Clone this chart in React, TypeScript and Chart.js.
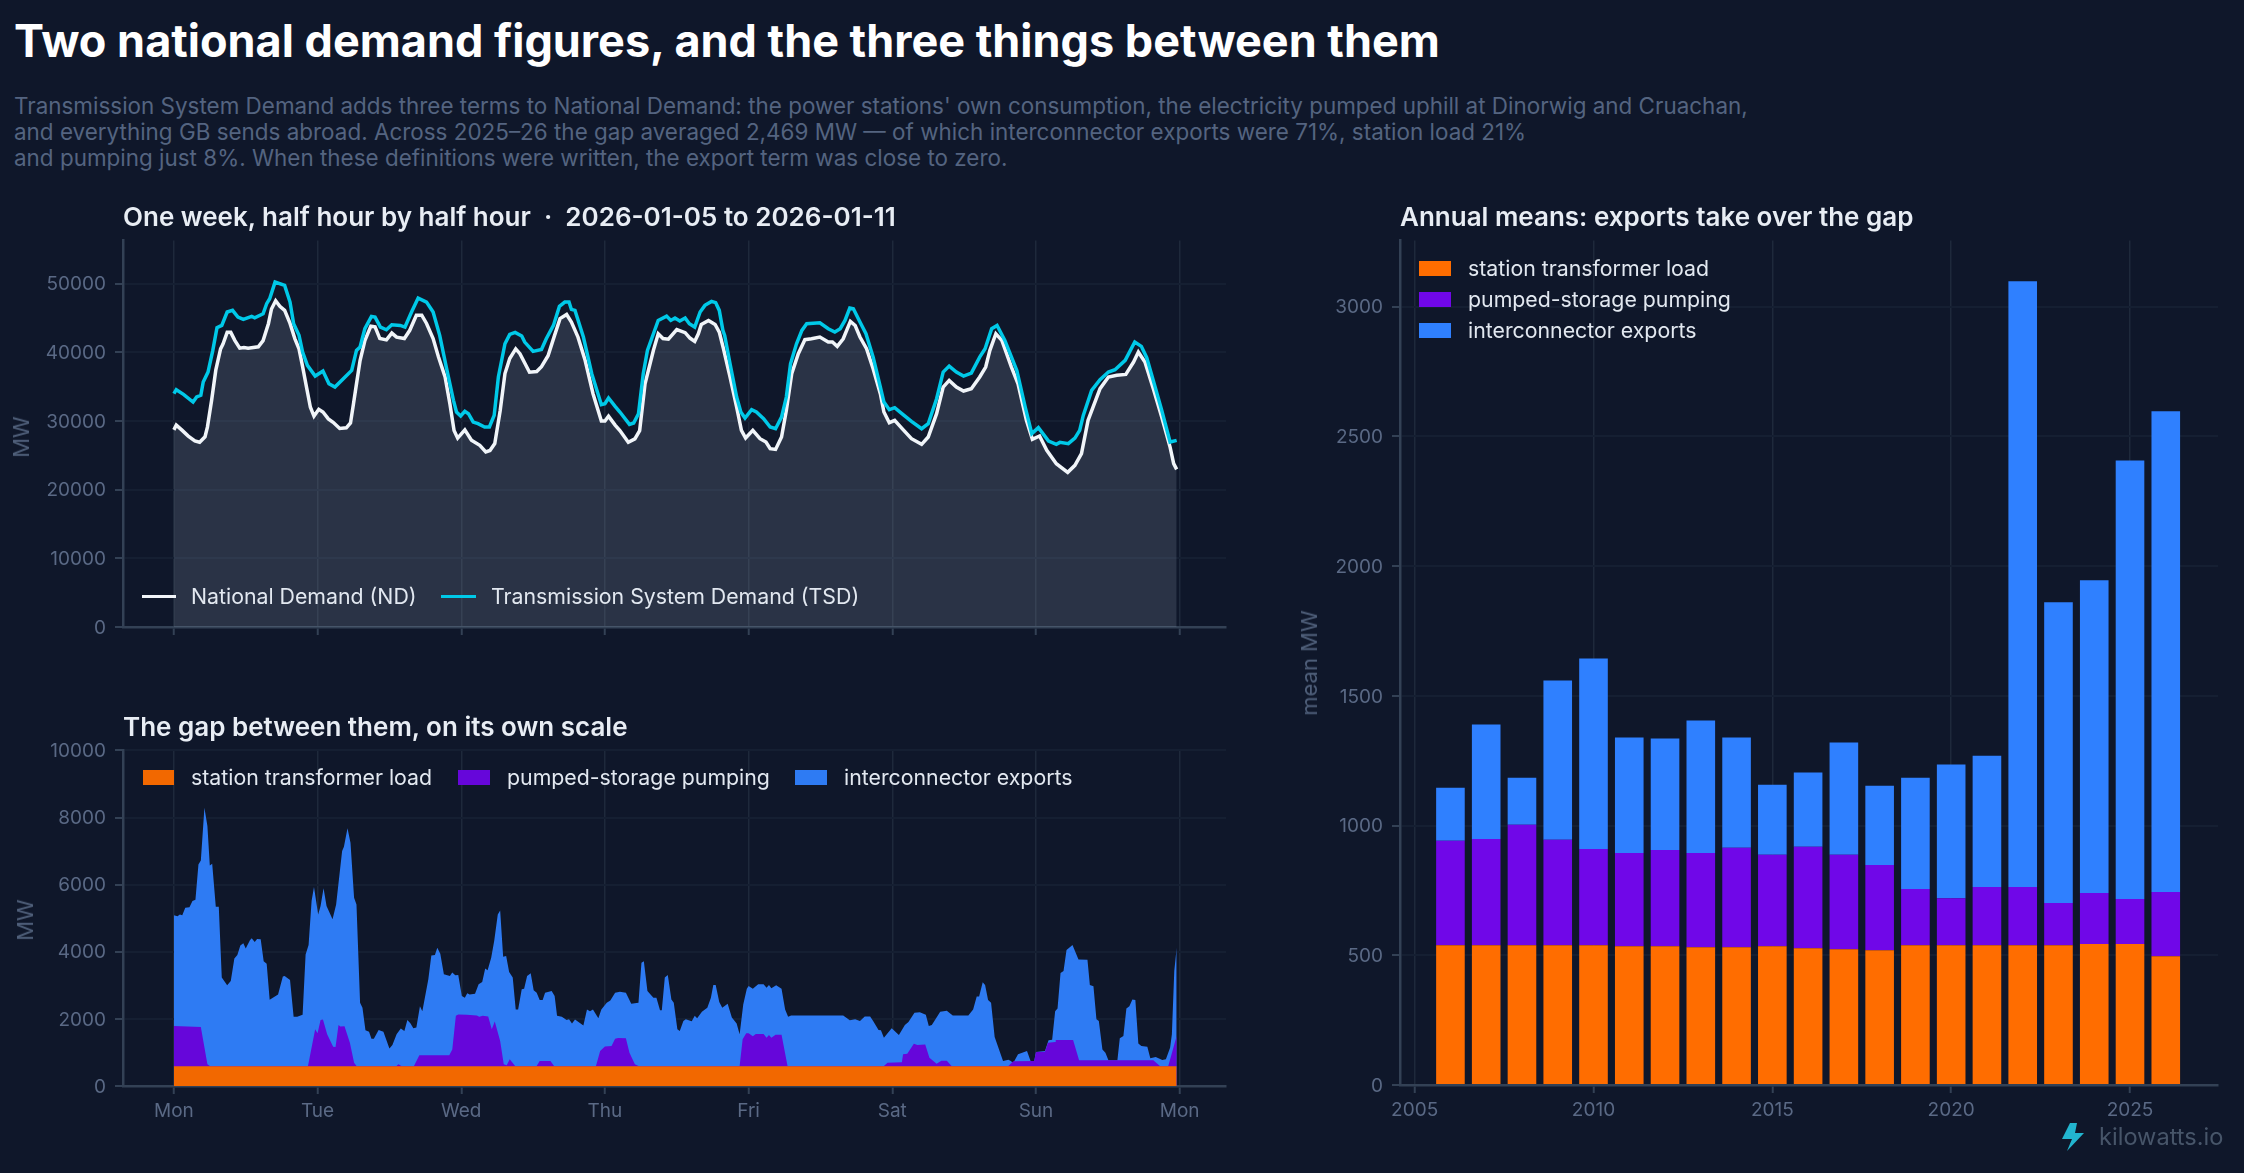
import { useEffect, useRef } from "react";
import { Chart, registerables } from "chart.js";

Chart.register(...registerables);

// half-hourly week at its turning points
const ndHours = [
  0, 0.4, 1.3, 2.4, 3.5, 4.3, 5.2, 5.6, 6.3, 7, 7.8, 8.2, 8.9, 9.5, 10.2, 11, 11.7, 12.4, 14.1, 14.9, 15.8, 16.3, 17, 17.7, 18.5, 19.4, 20.2, 20.9, 21.5, 22.2, 22.8, 23.4,
  24.2, 24.9, 25.8, 26.6, 27.7, 28.8, 29.5, 30, 30.5, 31.1, 31.9, 32.9, 33.6, 34.4, 35.5, 36.4, 37.2, 38.5, 39.4, 40.5, 41.4, 42.2, 43.3, 44.2, 45.3, 46.1, 46.8, 47.4,
  48.6, 49.7, 51.1, 52.1, 52.8, 53.6, 54.5, 55.3, 56.1, 57.1, 57.8, 59.4, 60.6, 61.4, 62.5, 63.6, 64.5, 65.6, 66.4, 67.5, 68.7, 70, 71.4,
  72, 72.6, 73.7, 74.5, 75.9, 77, 77.8, 78.7, 80.1, 80.9, 81.7, 82.6, 84, 85.4, 86.2, 87, 87.6, 88.1, 89.3, 90.4, 91.1, 91.8, 92.9, 94, 94.8, 95.5,
  96.7, 97.9, 98.9, 99.6, 100.5, 101.5, 102.3, 103.2, 104.3, 105.4, 106.5, 107.9, 109.3, 110, 110.8, 111.8, 113, 113.8, 114.6, 115.7, 116.8, 118, 118.6, 119.5,
  120.4, 121.8, 123.2, 124.9, 126, 127.4, 128.5, 129.5, 130.7, 131.9, 133.2, 134.6, 135.6, 136.3, 137.3, 138.3, 139.9, 141, 142.4, 143.4,
  144.6, 145.8, 147.4, 149.3, 150.5, 151.6, 152.7, 154.7, 156.1, 157.5, 159, 160.3, 161.1, 162.2, 163.6, 165, 166.4, 167, 167.5,
];
const ndValues = [
  28700, 29400, 28700, 27800, 27100, 26900, 27700, 29100, 33000, 37400, 40500, 41200, 42900, 42900, 41700, 40600, 40700, 40600, 40800, 41700, 44200, 46300, 47500, 46700, 46100, 44200, 42000, 40500, 37900, 34700, 32000, 30700,
  31700, 31300, 30300, 29800, 28900, 29000, 29700, 32500, 35400, 38800, 41700, 43800, 43700, 42000, 41800, 42800, 42200, 42000, 43200, 45400, 45400, 44200, 42000, 39300, 36400, 32500, 28600, 27500,
  28700, 27200, 26450, 25500, 25700, 26700, 31500, 36900, 39100, 40500, 39800, 37100, 37200, 37900, 39500, 42500, 44900, 45500, 44400, 42200, 38800, 34000, 30000,
  30000, 30700, 29400, 28600, 26900, 27400, 28600, 35400, 40300, 42700, 42000, 41900, 43300, 42850, 42070, 41590, 42700, 44060, 44640, 44060, 42940, 40520, 36400, 32030, 28630, 27520,
  28630, 27420, 26930, 25960, 25860, 27660, 31540, 36880, 39790, 41830, 41970, 42220, 41490, 41490, 40860, 41970, 44500, 43900, 42220, 40520, 37610, 33970, 31300, 29750,
  30090, 28730, 27420, 26590, 27660, 31060, 34940, 35910, 34940, 34360, 34700, 36400, 37850, 40280, 42700, 41730, 37850, 35420, 30090, 27320,
  27810, 25720, 23780, 22520, 23540, 25240, 30090, 34700, 36400, 36640, 36780, 38580, 40030, 38580, 34700, 30570, 26200, 23780, 22960,
];

const tsdHours = [
  0, 0.4, 1.6, 3.2, 3.8, 4.5, 4.9, 5.7, 6.5, 7.2, 8, 8.9, 9.8, 10.7, 11.6, 13, 13.5, 14.9, 15.5, 16, 16.9, 18.5, 19.4, 20, 20.9, 21.5, 22.3, 23.6,
  24.9, 25.9, 26.9, 28.3, 29.7, 30.5, 31.1, 31.9, 33, 33.6, 34.5, 35.5, 36.4, 37.8, 38.6, 39.7, 40.8, 42.2, 43.3, 44.4, 45.5, 46.7, 47.2, 47.9,
  48.6, 49.2, 50, 50.8, 51.9, 52.7, 53.5, 54.2, 55.3, 56.1, 57, 58.1, 58.6, 60, 61.4, 62.2, 63.4, 64.4, 65.3, 66, 66.4, 67, 68.4, 69.8, 71.4,
  72, 72.6, 73.7, 74.5, 76.1, 76.8, 77.6, 78.4, 79.1, 80.1, 80.9, 82.3, 83, 83.7, 84.5, 85.4, 86.1, 87, 87.9, 88.7, 89.8, 90.5, 91.1, 91.7, 92, 92.9, 94, 94.7, 95.4,
  96.5, 97.3, 98.5, 99.6, 100.5, 101.5, 102.3, 103, 104, 104.9, 105.7, 107.9, 109.3, 110.4, 111.3, 112.1, 112.9, 113.5, 114.6, 115.6, 116.8, 118, 118.6, 119.5,
  120.4, 121.6, 123.2, 124.9, 126, 127.4, 128.5, 129.5, 130.7, 131.9, 133.2, 134.6, 135.5, 136.6, 137.5, 138.8, 140.8, 142.2, 143.3,
  144.4, 146.1, 147.4, 148, 149.4, 150.5, 151.3, 151.9, 153.3, 154.7, 156.1, 157.2, 158.9, 160.5, 161.6, 162.5, 163.9, 165, 166.4, 167.5,
];
const tsdValues = [
  33970, 34550, 33870, 32760, 33490, 33730, 35670, 37120, 40270, 43570, 43910, 45860, 46100, 45130, 44790, 45220, 45030, 45610, 47070, 47800, 50220, 49740, 47310, 44160, 42460, 40030, 38090, 36540,
  37270, 35420, 34940, 36150, 37360, 40280, 40760, 43430, 45220, 45130, 43670, 43280, 44010, 43910, 43670, 45860, 47890, 47310, 45860, 42460, 37850, 33000, 31300, 30720,
  31400, 31060, 29840, 29600, 29120, 29120, 30810, 36400, 41240, 42600, 42900, 42360, 41490, 40130, 40420, 41970, 43910, 46680, 47310, 47310, 46240, 46100, 42220, 36880, 32370,
  32510, 33340, 32130, 31300, 29500, 29700, 31060, 36880, 40280, 42700, 44640, 45270, 44640, 44980, 44550, 44980, 44160, 43670, 45860, 46830, 47410, 47220, 46100, 43190, 42460, 38330, 33480, 31300, 30430,
  31640, 31300, 30330, 29120, 28870, 30570, 33480, 38330, 41240, 43190, 44160, 44300, 43430, 42950, 43430, 44640, 46440, 46340, 44400, 42700, 39300, 34940, 32750, 31640,
  31930, 31060, 29940, 28870, 29600, 33240, 37120, 37990, 37120, 36540, 36980, 39300, 40520, 43430, 43910, 41730, 37360, 32030, 28150,
  29020, 27080, 26590, 26880, 26690, 27510, 28630, 30810, 34450, 36010, 37120, 37460, 38820, 41490, 40860, 39210, 34940, 31550, 26930, 27180,
];

// gap panel: top edge of the whole stack (exports on top)
const gapTopHours = [
  0, 0.6, 1, 1.4, 1.9, 2.6, 3.1, 3.6, 4.1, 4.5, 5.1, 5.6, 6, 6.4, 7, 7.5, 8, 8.9, 9.5, 10.1, 10.6, 11.1, 11.6, 12, 12.7, 13, 13.5, 13.9, 14.5, 15, 15.5, 16, 17.4, 18.2, 18.5, 19.4, 20, 20.6, 21.5, 22, 22.5, 23, 23.4,
  24.1, 24.5, 25, 25.5, 26.5, 27.1, 28.1, 28.4, 29, 29.5, 30.1, 30.5, 31.1, 31.5, 32, 32.6, 33, 33.4, 34.2, 35, 36, 36.5, 37.2, 37.9, 38.5, 39, 39.5, 40, 40.5, 41.1, 41.5, 42.5, 43, 43.6, 44, 44.5, 45.1, 46.1, 46.5, 47, 47.5,
  48.1, 48.6, 49, 49.4, 50.3, 50.9, 51.5, 52, 52.4, 53, 53.5, 54.1, 54.5, 55, 55.5, 56, 56.6, 57.1, 57.5, 58.1, 58.5, 59, 59.6, 60.1, 60.6, 61.1, 61.6, 62, 63.1, 63.6, 64, 64.8, 65.6, 66, 66.5, 67, 68.4, 69, 69.5, 70, 70.9, 71.4,
  72.3, 72.9, 73.7, 74.5, 75.5, 76.4, 77.6, 78.1, 78.5, 79.1, 80.1, 80.6, 81.2, 81.5, 82, 82.5, 83.1, 83.5, 84.1, 84.5, 85.1, 85.5, 86.5, 87, 87.4, 88.2, 89.1, 89.7, 90.1, 90.5, 91.1, 91.6, 92.5, 93.2, 94, 94.5, 95.1, 95.7,
  96, 96.7, 97.6, 98.5, 99, 99.4, 99.8, 100.6, 101.5, 102.1, 102.6, 103.1, 111.8, 112.9, 113.8, 114.6, 115.4, 116.3, 116.8, 117.7, 118.1, 118.6, 119.9,
  121.1, 122.1, 122.7, 123.7, 124.6, 125.6, 126.1, 126.6, 128, 129.1, 130.1, 132.7, 133.5, 134.1, 134.5, 135.1, 135.5, 136, 136.5, 137.1, 138.5, 139.4, 139.8, 140.2, 141, 142.5, 143.1, 143.7,
  144, 145.5, 146.1, 146.7, 147.2, 147.6, 148.1, 148.6, 149.1, 150.1, 151.1, 152.6, 153, 153.6, 154.1, 154.5, 155.1, 155.6, 156.1, 157.6, 158, 158.6, 159.1, 159.6, 160.1, 160.6, 161.1, 161.6, 162.6, 163.1, 164, 165.1, 165.7, 166.4, 166.7, 167.1, 167.5,
];
const gapTopValues = [
  5090, 5060, 5110, 5090, 5310, 5330, 5510, 5550, 6600, 6720, 8290, 7750, 6570, 6620, 5340, 5340, 3230, 3000, 3130, 3800, 3900, 4190, 4250, 4100, 4340, 4400, 4290, 4380, 4370, 3720, 3640, 2570, 2730, 3260, 3280, 3160, 2060, 2060, 2120, 3920, 4200, 5510, 5930,
  5110, 5360, 5890, 5360, 4970, 5410, 7000, 7130, 7680, 7250, 5610, 5410, 2480, 2330, 1660, 1620, 1410, 1410, 1670, 1620, 1120, 1220, 1540, 1710, 1640, 1970, 1870, 1720, 1740, 2380, 2230, 3180, 3890, 3900, 4120, 3940, 3330, 3280, 3380, 3300, 3310,
  2680, 2630, 2760, 2730, 2750, 3030, 3100, 3500, 3450, 3820, 4320, 5110, 5230, 3850, 3870, 3400, 3230, 2280, 2280, 2880, 2900, 3280, 3360, 2850, 2780, 2560, 2560, 2780, 2830, 2680, 2090, 2060, 1970, 1990, 1860, 1980, 1800, 2280, 2230, 2280, 2020, 2280,
  2480, 2550, 2780, 2810, 2780, 2450, 2480, 3670, 3720, 2830, 2630, 2630, 2260, 2260, 3230, 3310, 2580, 2480, 1690, 1640, 1940, 1990, 1930, 2090, 2020, 2210, 2330, 2630, 3010, 3010, 2500, 2330, 2450, 2040, 1860, 1540, 2430, 2900,
  2980, 2900, 3030, 3030, 2930, 3010, 2910, 3000, 2900, 2280, 2060, 2100, 2100, 1960, 1990, 1940, 2070, 2070, 1940, 1670, 1660, 1440, 1720,
  1520, 1820, 1910, 2180, 2200, 2120, 1790, 1820, 2210, 2240, 2100, 2100, 2280, 2670, 2670, 3090, 3010, 2560, 2480, 1460, 745, 785, 745, 685, 943, 1040, 745, 745,
  1010, 1040, 1360, 1380, 2230, 2310, 3370, 3430, 4050, 4200, 3770, 3760, 3010, 2970, 1990, 1940, 1090, 990, 765, 765, 1420, 1490, 2310, 2380, 2580, 2560, 1270, 1190, 1170, 825, 865, 775, 795, 1140, 1540, 3430, 4120,
];

// top edge of station load + pumping
const pumpTopHours = [
  0, 4.5, 5.6, 6, 22.4, 23.6, 24, 24.5, 24.9, 25.6, 26.6, 27, 27.5, 27.8, 28.5, 29.4, 30.1, 30.5, 37.2, 37.5, 38, 40.1, 41, 46, 46.5, 47.1, 47.5, 48.9, 50.6, 51, 51.6, 52.5, 53.1, 53.6, 54.5, 55.1, 55.6, 56.1, 57,
  60.6, 61.1, 62.9, 63.5, 70.5, 71.2, 72, 73.1, 73.7, 74.2, 75.5, 76.1, 77, 77.6, 94.5, 95, 95.6, 96, 96.7, 97.2, 98.5, 99, 99.4, 99.8, 100.5, 101.5, 102.5,
  118.6, 119.2, 121.6, 121.8, 122.5, 123.6, 124.2, 125.5, 126.2, 127.4, 128.2, 129.1, 129.9, 139.4, 140.2, 143.7, 144, 145.5, 146, 147.2, 147.3, 150.2, 151.2, 163.6, 164.7, 166.1, 167.5,
];
const pumpTopValues = [
  1790, 1760, 645, 596, 596, 1690, 1570, 1970, 1980, 1540, 1170, 1160, 1820, 1770, 1780, 1290, 695, 596, 596, 645, 596, 596, 914, 914, 1090, 2090, 2130, 2120, 2100, 2060, 2090, 2070, 1690, 1920, 1340, 645, 616, 794, 596,
  596, 745, 745, 596, 596, 1040, 1180, 1190, 1410, 1430, 1420, 990, 645, 596, 596, 1390, 1570, 1570, 1480, 1550, 1550, 1440, 1520, 1440, 1530, 1530, 596,
  596, 695, 705, 943, 963, 1260, 1220, 1240, 844, 665, 755, 755, 596, 596, 735, 745, 1010, 1020, 1290, 1310, 1370, 1370, 765, 765, 596, 596, 1490,
];

const stationHours = [0, 167.5];
const stationValues = [590, 590];

const dayHours = [0, 24, 48, 72, 96, 120, 144, 168];
const dayLabels = ["Mon", "Tue", "Wed", "Thu", "Fri", "Sat", "Sun", "Mon"];

const weekTicks = [0, 10000, 20000, 30000, 40000, 50000];
const gapTicks = [0, 2000, 4000, 6000, 8000, 10000];
const annualTicks = [0, 500, 1000, 1500, 2000, 2500, 3000];
const yearTicks = [2005, 2010, 2015, 2020, 2025];

// annual means
const years = [2006, 2007, 2008, 2009, 2010, 2011, 2012, 2013, 2014, 2015, 2016, 2017, 2018, 2019, 2020, 2021, 2022, 2023, 2024, 2025, 2026];
const annualStation = [539, 539, 539, 539, 539, 535, 535, 531, 531, 535, 527, 523, 519, 539, 539, 539, 539, 539, 543, 543, 496];
const annualPumping = [402, 409, 464, 406, 371, 359, 371, 363, 383, 352, 391, 364, 329, 216, 181, 224, 224, 162, 197, 174, 248];
const annualExports = [205, 441, 181, 614, 734, 445, 429, 511, 425, 270, 286, 433, 305, 429, 515, 506, 2335, 1159, 1205, 1690, 1853];

const BG = "#0f172a";
const TICK = "#5a6985";
const AXIS_TITLE = "#4f5f7a";
const AXIS = "#334155";
const GRID_H = "#151f32";
const GRID_V = "#1e293b";
const FONT = "Inter";

const pts = (xs: number[], ys: number[]) => xs.map((x, i) => ({ x, y: ys[i] }));

function yAxis(max: number, tickValues: number[], width: number, stacked = false) {
  return {
    min: 0,
    max,
    stacked,
    afterFit: (s: any) => {
      s.width = width;
    },
    afterBuildTicks: (s: any) => {
      s.ticks = tickValues.map((value) => ({ value }));
    },
    border: { color: AXIS, width: 2.5 },
    grid: { color: GRID_H, lineWidth: 2, tickLength: 8, tickColor: AXIS, tickWidth: 2 },
    ticks: { color: TICK, padding: 9, labelOffset: 1, font: { family: FONT, size: 19 }, callback: (v: any) => String(v) },
  };
}

function xAxis(min: number, max: number, height: number, tickValues: number[], labels: ((v: number) => string) | null, stacked = false) {
  return {
    type: "linear",
    min,
    max,
    stacked,
    offset: false,
    afterFit: (s: any) => {
      s.height = height;
    },
    afterBuildTicks: (s: any) => {
      s.ticks = tickValues.map((value) => ({ value }));
    },
    border: { color: AXIS, width: 2.5 },
    grid: { color: GRID_V, lineWidth: 1.5, offset: false, tickLength: 8, tickColor: AXIS, tickWidth: 2 },
    ticks: {
      display: labels != null,
      autoSkip: false,
      maxRotation: 0,
      color: TICK,
      padding: 6,
      font: { family: FONT, size: 19 },
      callback: (v: any) => (labels ? labels(Number(v)) : ""),
    },
  };
}

function ChartCanvas(props: { left: number; top: number; width: number; height: number; config: any }) {
  const canvasRef = useRef<HTMLCanvasElement | null>(null);

  useEffect(() => {
    if (canvasRef.current == null) return;
    const chartInstance = new Chart(canvasRef.current, props.config);
    return () => {
      chartInstance.destroy();
    };
  }, []);

  return (
    <canvas
      ref={canvasRef}
      width={props.width}
      height={props.height}
      style={{ position: "absolute", left: props.left, top: props.top, width: props.width, height: props.height }}
    ></canvas>
  );
}

const baseOptions = {
  responsive: false,
  animation: false,
  plugins: { legend: { display: false }, tooltip: { enabled: false } },
};

const weekConfig = {
  type: "line",
  data: {
    datasets: [
      { label: "Transmission System Demand (TSD)", data: pts(tsdHours, tsdValues), borderColor: "#00c9e8", borderWidth: 3.5, pointRadius: 0, tension: 0, fill: false, order: 0 },
      { label: "National Demand (ND)", data: pts(ndHours, ndValues), borderColor: "#f1f5f9", borderWidth: 3.5, pointRadius: 0, tension: 0, fill: "origin", backgroundColor: "rgba(148,163,184,0.2)", order: 1 },
    ],
  },
  options: {
    ...baseOptions,
    layout: { padding: { top: 20, right: 22, left: 0, bottom: 0 } },
    scales: {
      x: xAxis(-8.5, 175.74, 33, dayHours, null),
      y: yAxis(56290, weekTicks, 123),
    },
  },
};

const gapConfig = {
  type: "line",
  data: {
    datasets: [
      { label: "station transformer load", data: pts(stationHours, stationValues), borderWidth: 0, pointRadius: 0, tension: 0, fill: "origin", backgroundColor: "#f26800", order: 0 },
      { label: "pumped-storage pumping", data: pts(pumpTopHours, pumpTopValues), borderWidth: 0, pointRadius: 0, tension: 0, fill: "origin", backgroundColor: "#6606da", order: 1 },
      { label: "interconnector exports", data: pts(gapTopHours, gapTopValues), borderWidth: 0, pointRadius: 0, tension: 0, fill: "origin", backgroundColor: "#2e7bf3", order: 2 },
    ],
  },
  options: {
    ...baseOptions,
    layout: { padding: { top: 20, right: 22, left: 0, bottom: 0 } },
    scales: {
      x: xAxis(-8.5, 175.74, 44, dayHours, (v) => dayLabels[dayHours.indexOf(v)]),
      y: yAxis(10000, gapTicks, 123),
    },
  },
};

const annualConfig = {
  type: "bar",
  data: {
    datasets: [
      { label: "station transformer load", data: pts(years, annualStation), backgroundColor: "#ff6d00", barPercentage: 0.8, categoryPercentage: 1 },
      { label: "pumped-storage pumping", data: pts(years, annualPumping), backgroundColor: "#7007e8", barPercentage: 0.8, categoryPercentage: 1 },
      { label: "interconnector exports", data: pts(years, annualExports), backgroundColor: "#2f80ff", barPercentage: 0.8, categoryPercentage: 1 },
    ],
  },
  options: {
    ...baseOptions,
    layout: { padding: { top: 20, right: 20, left: 0, bottom: 0 } },
    scales: {
      x: xAxis(2004.59, 2027.46, 44, yearTicks, (v) => String(v), true),
      y: yAxis(3255, annualTicks, 120, true),
    },
  },
};

function Text(props: { x: number; cy: number; size: number; color: string; weight?: number; children: any }) {
  const lineHeight = Math.round(props.size * 1.3);
  return (
    <div
      style={{
        position: "absolute",
        left: props.x,
        top: props.cy - lineHeight / 2,
        fontFamily: FONT,
        fontSize: props.size,
        fontWeight: props.weight ?? 400,
        lineHeight: lineHeight + "px",
        color: props.color,
        whiteSpace: "pre",
      }}
    >
      {props.children}
    </div>
  );
}

// y axis title, turned a quarter and centred on (cx, cy)
function AxisTitle(props: { cx: number; cy: number; children: any }) {
  return (
    <div
      style={{
        position: "absolute",
        left: props.cx,
        top: props.cy,
        transform: "translate(-50%, -50%) rotate(-90deg)",
        fontFamily: FONT,
        fontSize: 22,
        color: AXIS_TITLE,
        whiteSpace: "pre",
      }}
    >
      {props.children}
    </div>
  );
}

function Swatch(props: { x: number; cy: number; w: number; h: number; color: string }) {
  return <div style={{ position: "absolute", left: props.x, top: props.cy - props.h / 2, width: props.w, height: props.h, background: props.color }}></div>;
}

const LEGEND_TEXT = "#e2e8f0";
const SUBTITLE = "#546480";
const PANEL_TITLE = "#e8edf4";

export default function App() {
  useEffect(() => {
    document.body.style.margin = "0";
    document.body.style.background = BG;
  }, []);

  return (
    <div style={{ position: "absolute", left: 0, top: 0, width: 2244, height: 1173, background: BG, overflow: "hidden" }}>
      <ChartCanvas left={0} top={220} width={1248} height={440} config={weekConfig} />
      <ChartCanvas left={0} top={730} width={1248} height={400} config={gapConfig} />
      <ChartCanvas left={1280} top={220} width={958} height={909} config={annualConfig} />

      <AxisTitle cx={21} cy={437}>MW</AxisTitle>
      <AxisTitle cx={25} cy={920}>MW</AxisTitle>
      <AxisTitle cx={1309} cy={663}>mean MW</AxisTitle>

      <Text x={14} cy={40} size={45} weight={700} color="#ffffff">
        Two national demand figures, and the three things between them
      </Text>
      <Text x={14} cy={105} size={22.45} color={SUBTITLE}>
        Transmission System Demand adds three terms to National Demand: the power stations' own consumption, the electricity pumped uphill at Dinorwig and Cruachan,
      </Text>
      <Text x={14} cy={131} size={22.45} color={SUBTITLE}>
        and everything GB sends abroad. Across 2025–26 the gap averaged 2,469 MW — of which interconnector exports were 71%, station load 21%
      </Text>
      <Text x={14} cy={157} size={22.45} color={SUBTITLE}>
        and pumping just 8%. When these definitions were written, the export term was close to zero.
      </Text>

      <Text x={123} cy={217} size={26} weight={600} color={PANEL_TITLE}>
        One week, half hour by half hour  ·  2026-01-05 to 2026-01-11
      </Text>
      <Text x={123} cy={727} size={26} weight={600} color={PANEL_TITLE}>
        The gap between them, on its own scale
      </Text>
      <Text x={1400} cy={217} size={26} weight={600} color={PANEL_TITLE}>
        Annual means: exports take over the gap
      </Text>

      <Swatch x={142} cy={596} w={34} h={3} color="#f1f5f9" />
      <Text x={191} cy={596} size={21.3} color={LEGEND_TEXT}>National Demand (ND)</Text>
      <Swatch x={441} cy={596} w={35} h={3} color="#00c9e8" />
      <Text x={491} cy={596} size={21.3} color={LEGEND_TEXT}>Transmission System Demand (TSD)</Text>

      <Swatch x={143} cy={777} w={31} h={15} color="#f26800" />
      <Text x={191} cy={777} size={21.3} color={LEGEND_TEXT}>station transformer load</Text>
      <Swatch x={458} cy={777} w={32} h={15} color="#6606da" />
      <Text x={507} cy={777} size={21.3} color={LEGEND_TEXT}>pumped-storage pumping</Text>
      <Swatch x={795} cy={777} w={32} h={15} color="#2e7bf3" />
      <Text x={844} cy={777} size={21.3} color={LEGEND_TEXT}>interconnector exports</Text>

      <Swatch x={1419} cy={268} w={32} h={15} color="#ff6d00" />
      <Text x={1468} cy={268} size={21.3} color={LEGEND_TEXT}>station transformer load</Text>
      <Swatch x={1419} cy={299} w={32} h={15} color="#7007e8" />
      <Text x={1468} cy={299} size={21.3} color={LEGEND_TEXT}>pumped-storage pumping</Text>
      <Swatch x={1419} cy={330} w={32} h={15} color="#2f80ff" />
      <Text x={1468} cy={330} size={21.3} color={LEGEND_TEXT}>interconnector exports</Text>

      <svg style={{ position: "absolute", left: 2062, top: 1123 }} width={23} height={29}>
        <polygon points="8,0 15,0 13,10 22,10 5,28 10,16 0,16" fill="#22b5cf" />
      </svg>
      <Text x={2099} cy={1136} size={23.6} color="#475569">kilowatts.io</Text>
    </div>
  );
}
